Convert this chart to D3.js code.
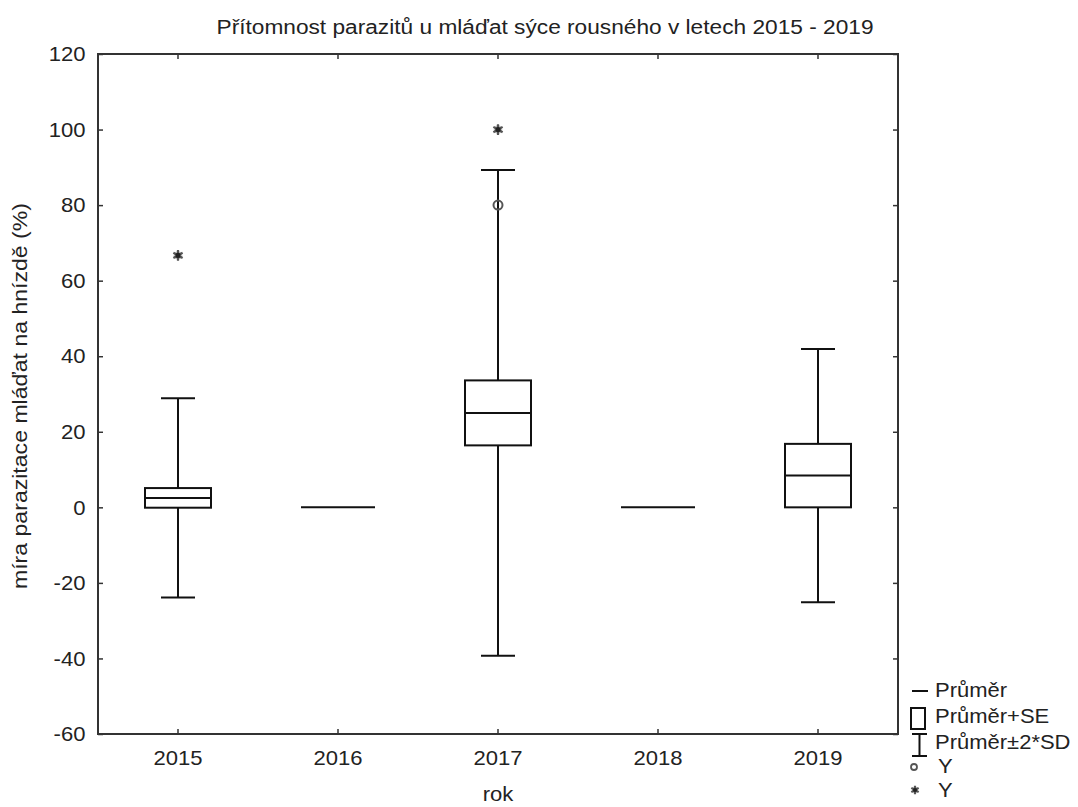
<!DOCTYPE html>
<html>
<head>
<meta charset="utf-8">
<script src="https://cdn.jsdelivr.net/npm/d3@7/dist/d3.min.js"></script>
<style>
  html, body { margin: 0; padding: 0; background: #fff; }
  svg { display: block; }
  text { font-family: "Liberation Sans", Arial, sans-serif; fill: #222; }
</style>
</head>
<body>
<svg id="chart" width="1078" height="807"></svg>
<script>
// ---- data ----
const years = ["2015", "2016", "2017", "2018", "2019"];
const means = [2.5, 0, 25.0, 0, 8.4];
const se = [2.6, 0, 8.6, 0, 8.4];
const sd = [13.2, 0, 32.15, 0, 16.75];
const circleYears = ["2017"];
const circleValues = [80];
const starYears = ["2015", "2017"];
const starValues = [66.7, 100];
const yTicks = [-60, -40, -20, 0, 20, 40, 60, 80, 100, 120];
const legendLabels = ["Průměr", "Průměr+SE", "Průměr±2*SD", "Y", "Y"];
const titleText = "Přítomnost parazitů u mláďat sýce rousného v letech 2015 - 2019";
const xTitle = "rok";
const yTitle = "míra parazitace mláďat na hnízdě (%)";

// ---- layout ----
const L = 98, R = 898, T = 54, B = 734;
const FS = 21, SX = 1.05;
const svg = d3.select("#chart");

const x = d3.scaleBand().domain(years).range([L, R]).padding(0);
const y = d3.scaleLinear().domain([-60, 120]).range([B, T]);
const cx = d => x(d) + x.bandwidth() / 2;

// axes (ticks inward)
const axL = svg.append("g").attr("transform", `translate(${L},0)`)
  .call(d3.axisLeft(y).tickValues(yTicks).tickSize(-5).tickPadding(12).tickFormat(v => String(v)));
const axR = svg.append("g").attr("transform", `translate(${R},0)`)
  .call(d3.axisRight(y).tickValues(yTicks).tickSize(-5).tickFormat(""));
const axB = svg.append("g").attr("transform", `translate(0,${B})`)
  .call(d3.axisBottom(x).tickSize(-5).tickPadding(16));
const axT = svg.append("g").attr("transform", `translate(0,${T})`)
  .call(d3.axisTop(x).tickSize(-5).tickFormat(""));
[axL, axR, axB, axT].forEach(a => {
  a.select(".domain").remove();
  a.selectAll(".tick line").attr("stroke", "#333").attr("stroke-width", 1.5);
  a.selectAll("text").attr("font-size", FS).attr("fill", "#222")
    .attr("font-family", "Liberation Sans, Arial, sans-serif");
});
axL.selectAll("text").attr("transform", `scale(${SX},1)`);
axB.selectAll("text").attr("transform", `scale(${SX},1)`);

// frame
svg.append("rect").attr("x", L).attr("y", T).attr("width", R - L).attr("height", B - T)
  .attr("fill", "none").attr("stroke", "#333").attr("stroke-width", 2);

// boxes
const data = years.map((yr, i) => ({ yr, m: means[i], se: se[i], sd: sd[i] }));
const g = svg.append("g").attr("stroke", "#111").attr("stroke-width", 2).attr("fill", "none");
const BW = 33, CW = 17, FW = 37;
data.forEach(d => {
  const c = cx(d.yr);
  if (d.se === 0 && d.sd === 0) {
    g.append("line").attr("x1", c - FW).attr("x2", c + FW)
      .attr("y1", y(d.m)).attr("y2", y(d.m));
    return;
  }
  const hi = d.m + 2 * d.sd, lo = d.m - 2 * d.sd;
  g.append("line").attr("x1", c).attr("x2", c).attr("y1", y(hi)).attr("y2", y(d.m + d.se));
  g.append("line").attr("x1", c).attr("x2", c).attr("y1", y(d.m - d.se)).attr("y2", y(lo));
  g.append("line").attr("x1", c - CW).attr("x2", c + CW).attr("y1", y(hi)).attr("y2", y(hi));
  g.append("line").attr("x1", c - CW).attr("x2", c + CW).attr("y1", y(lo)).attr("y2", y(lo));
  g.append("rect").attr("x", c - BW).attr("width", 2 * BW)
    .attr("y", y(d.m + d.se)).attr("height", y(d.m - d.se) - y(d.m + d.se));
  g.append("line").attr("x1", c - BW).attr("x2", c + BW).attr("y1", y(d.m)).attr("y2", y(d.m));
});

// outliers
const starPath = d3.symbol().type(d3.symbolAsterisk).size(80)();
const starPathSmall = d3.symbol().type(d3.symbolAsterisk).size(50)();
function drawStar(px, py, small) {
  const s = svg.append("g").attr("transform", `translate(${px},${py})`);
  s.append("circle").attr("r", small ? 3.2 : 4.2).attr("fill", "#999").attr("opacity", 0.6);
  s.append("path").attr("d", small ? starPathSmall : starPath)
    .attr("stroke", "#555").attr("stroke-width", 2.2).attr("fill", "none");
  s.append("circle").attr("r", small ? 2 : 2.6).attr("fill", "#222");
}
starYears.forEach((yr, i) => drawStar(cx(yr), y(starValues[i]), false));
circleYears.forEach((yr, i) => {
  svg.append("circle").attr("cx", cx(yr)).attr("cy", y(circleValues[i])).attr("r", 4.5)
    .attr("fill", "none").attr("stroke", "#555").attr("stroke-width", 2);
});

// text helper with horizontal stretch
function txt(px, py, str, anchor, fs, sx) {
  return svg.append("text").attr("transform", `translate(${px},${py}) scale(${sx || SX},1)`)
    .attr("text-anchor", anchor || "start").attr("font-size", fs || FS).text(str);
}

// title
svg.append("text").attr("x", 545).attr("y", 34).attr("text-anchor", "middle")
  .attr("font-size", 20).attr("textLength", 657).attr("lengthAdjust", "spacingAndGlyphs")
  .text(titleText);
// axis titles
txt(498, 801, xTitle, "middle");
svg.append("text").attr("transform", "translate(27,396) rotate(-90)")
  .attr("text-anchor", "middle").attr("font-size", FS)
  .attr("textLength", 386).attr("lengthAdjust", "spacingAndGlyphs").text(yTitle);

// legend
const lg = svg.append("g").attr("stroke", "#111").attr("stroke-width", 2).attr("fill", "none");
lg.append("line").attr("x1", 912).attr("x2", 928).attr("y1", 691).attr("y2", 691);
lg.append("rect").attr("x", 911).attr("y", 708).attr("width", 14).attr("height", 21);
lg.append("line").attr("x1", 919.5).attr("x2", 919.5).attr("y1", 734).attr("y2", 756);
lg.append("line").attr("x1", 912).attr("x2", 927).attr("y1", 734).attr("y2", 734);
lg.append("line").attr("x1", 912).attr("x2", 927).attr("y1", 756).attr("y2", 756);
svg.append("circle").attr("cx", 914).attr("cy", 767).attr("r", 3)
  .attr("fill", "none").attr("stroke", "#555").attr("stroke-width", 1.8);
drawStar(915, 790, true);
const lgY = [697, 723, 749, 773, 797];
const lgX = [935, 935, 935, 938, 938];
legendLabels.forEach((s, i) => txt(lgX[i], lgY[i], s, "start", 20, 1.1));
</script>
</body>
</html>
